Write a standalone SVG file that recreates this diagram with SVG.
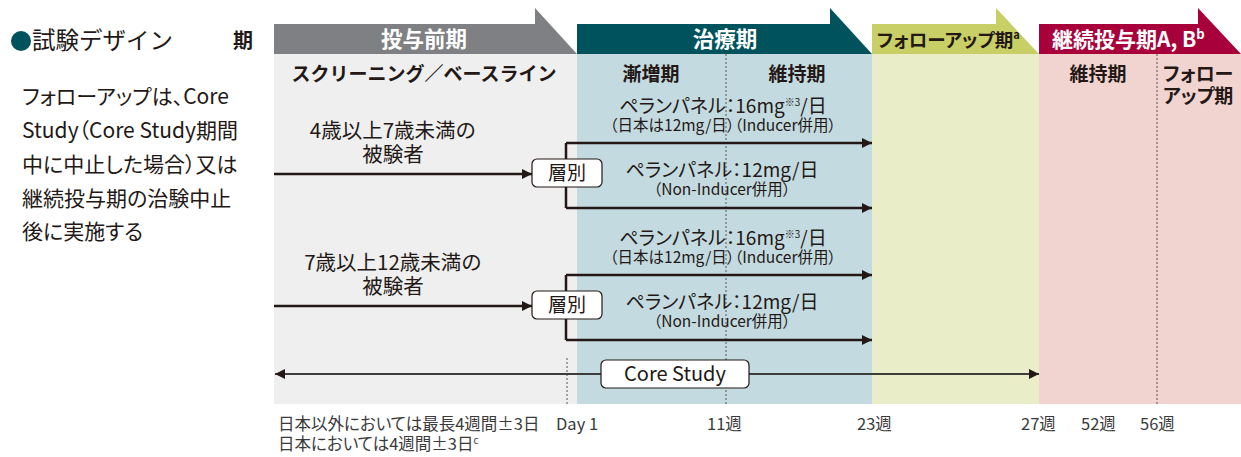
<svg xmlns="http://www.w3.org/2000/svg" width="1241" height="457" viewBox="0 0 1241 457">
<style>
text{font-family:"Noto Sans CJK JP","Noto Sans",sans-serif;fill:#231815}
.p{font-feature-settings:"palt"}
.hd{font-size:21.5px;font-weight:bold;fill:#fff;text-anchor:middle}
.sub{font-size:19px;font-weight:bold;text-anchor:middle}
.drug{font-size:19px;text-anchor:middle;font-feature-settings:"palt"}
.note{font-size:15.5px;text-anchor:middle;font-feature-settings:"palt"}
.subj{font-size:20.5px;text-anchor:middle}
.para{font-size:21px;font-feature-settings:"palt"}
.axis{font-size:16.5px;fill:#3a3a3a;font-feature-settings:"palt"}
.arr{stroke:#231815;stroke-width:2.5;fill:none}
.dot{stroke:#555;stroke-width:1;stroke-dasharray:2 2;fill:none}
.box{fill:#fff;stroke:#231815;stroke-width:1.2}
</style>
<defs>
<marker id="ah" viewBox="0 0 10 10" refX="10" refY="5" markerWidth="4" markerHeight="4" orient="auto" markerUnits="strokeWidth">
<path d="M0,0 L10,5 L0,10 z" fill="#231815"/>
</marker>
<marker id="ah2" viewBox="0 0 10 10" refX="10" refY="5" markerWidth="5" markerHeight="5" orient="auto-start-reverse" markerUnits="strokeWidth">
<path d="M0,0 L10,5 L0,10 z" fill="#231815"/>
</marker>
</defs>

<g id="title">
<circle cx="21" cy="41" r="10" fill="#00535d"/>
<text x="32" y="49" style="font-size:23.5px">試験デザイン</text>
<text x="233" y="48" style="font-size:20px;font-weight:bold">期</text>
</g>

<g id="followup-note">
<text class="para" x="22" y="104">フォローアップは、Core</text>
<text class="para" x="22" y="138">Study（Core Study期間</text>
<text class="para" x="22" y="172">中に中止した場合）又は</text>
<text class="para" x="22" y="206">継続投与期の治験中止</text>
<text class="para" x="22" y="239">後に実施する</text>
</g>

<g id="bodies">
<rect x="274" y="54" width="303" height="350" fill="#eeefee"/>
<rect x="577" y="54" width="295" height="350" fill="#c3dbe0"/>
<rect x="872" y="54" width="167" height="350" fill="#e9eec9"/>
<rect x="1039" y="54" width="202" height="350" fill="#f1d3cf"/>
<line class="dot" x1="726" y1="54" x2="726" y2="404"/>
<line class="dot" x1="1157" y1="54" x2="1157" y2="404"/>
<line class="dot" x1="567" y1="358" x2="567" y2="404"/>
</g>

<g id="phase-pre">
<path d="M274,24 H535 V8 L577,54 H274 Z" fill="#7f8083"/>
<text class="hd" x="424" y="47">投与前期</text>
<text class="sub" x="424" y="81">スクリーニング／ベースライン</text>
</g>

<g id="phase-treat">
<path d="M577,24 H830 V8 L872,54 H577 Z" fill="#00535d"/>
<text class="hd" x="725" y="47">治療期</text>
<text class="sub" x="651" y="81">漸増期</text>
<text class="sub" x="797" y="81">維持期</text>
</g>

<g id="phase-follow">
<path d="M872,24 H996 V8 L1039,54 H872 Z" fill="#c8cf66"/>
<text class="p" x="877" y="47" style="font-size:18.5px;font-weight:bold">フォローアップ期<tspan dy="-8" style="font-size:11px">a</tspan></text>
</g>

<g id="phase-ext">
<path d="M1039,24 H1198 V8 L1241,54 H1039 Z" fill="#a8003a"/>
<text x="1052" y="47" style="font-size:21px;font-weight:bold;fill:#fff">継続投与期A, B<tspan dy="-8" style="font-size:13px;fill:#fff">b</tspan></text>
<text class="sub" x="1098" y="81">維持期</text>
<text class="p" x="1163" y="81" style="font-size:19px;font-weight:bold">フォロー</text>
<text class="p" x="1163" y="103" style="font-size:19px;font-weight:bold">アップ期</text>
</g>

<g id="connectors">
<path class="arr" d="M566,143 V208"/>
<line class="arr" x1="566" y1="143" x2="872" y2="143" marker-end="url(#ah)"/>
<line class="arr" x1="566" y1="208" x2="872" y2="208" marker-end="url(#ah)"/>
<line class="arr" x1="274" y1="174" x2="532" y2="174" marker-end="url(#ah)"/>
<path class="arr" d="M566,275 V340"/>
<line class="arr" x1="566" y1="275" x2="872" y2="275" marker-end="url(#ah)"/>
<line class="arr" x1="566" y1="340" x2="872" y2="340" marker-end="url(#ah)"/>
<line class="arr" x1="274" y1="306" x2="532" y2="306" marker-end="url(#ah)"/>
<line x1="275" y1="374" x2="1039" y2="374" stroke="#3d3d3d" stroke-width="2" marker-start="url(#ah2)" marker-end="url(#ah2)"/>
</g>

<g id="group1">
<text class="subj" x="393" y="138">4歳以上7歳未満の</text>
<text class="subj" x="393" y="162">被験者</text>
<text class="drug" x="723" y="113">ペランパネル：16mg<tspan dy="-7" style="font-size:10px">※3</tspan><tspan dy="7">/日</tspan></text>
<text class="note" x="723" y="131">（日本は12mg/日）（Inducer併用）</text>
<text class="drug" x="722" y="177">ペランパネル：12mg/日</text>
<text class="note" x="722" y="195">（Non-Inducer併用）</text>
</g>

<g id="strat1">
<rect class="box" x="532" y="159" width="70" height="28" rx="5"/>
<text x="567" y="180" style="font-size:19px;text-anchor:middle">層別</text>
</g>

<g id="group2">
<text class="subj" x="393" y="270">7歳以上12歳未満の</text>
<text class="subj" x="393" y="294">被験者</text>
<text class="drug" x="723" y="245">ペランパネル：16mg<tspan dy="-7" style="font-size:10px">※3</tspan><tspan dy="7">/日</tspan></text>
<text class="note" x="723" y="263">（日本は12mg/日）（Inducer併用）</text>
<text class="drug" x="722" y="309">ペランパネル：12mg/日</text>
<text class="note" x="722" y="327">（Non-Inducer併用）</text>
</g>

<g id="strat2">
<rect class="box" x="532" y="291" width="70" height="28" rx="5"/>
<text x="567" y="312" style="font-size:19px;text-anchor:middle">層別</text>
</g>

<g id="core-study">
<rect class="box" x="601" y="360" width="148" height="28" rx="5"/>
<text x="675" y="381" style="font-size:20px;text-anchor:middle">Core Study</text>
</g>

<g id="axis">
<text class="axis" x="278" y="430">日本以外においては最長4週間±3日</text>
<text class="axis" x="278" y="450">日本においては4週間±3日<tspan dy="-6" style="font-size:10px">c</tspan></text>
<text class="axis" x="556" y="430">Day 1</text>
<text class="axis" x="707" y="430">11週</text>
<text class="axis" x="857" y="430">23週</text>
<text class="axis" x="1021" y="430">27週</text>
<text class="axis" x="1081" y="430">52週</text>
<text class="axis" x="1140" y="430">56週</text>
</g>
</svg>
